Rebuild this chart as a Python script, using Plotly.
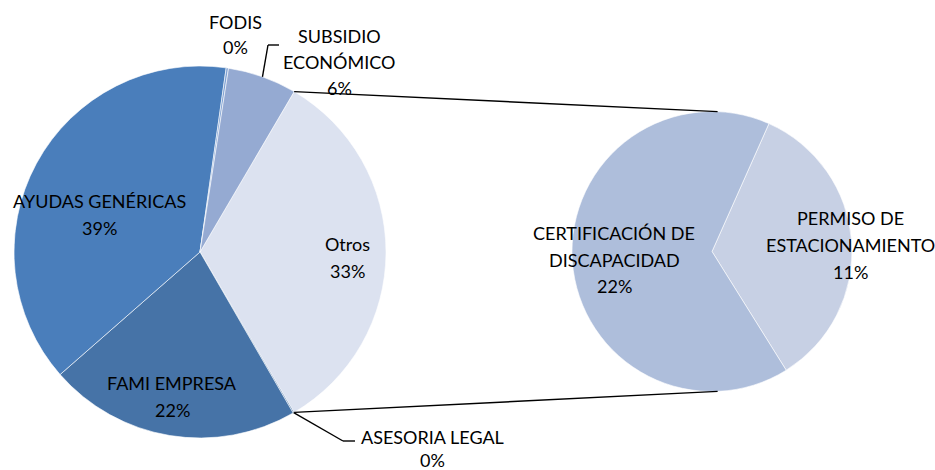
import math
import plotly.graph_objects as go

# ---- data ----
main_labels = ["Otros", "ASESORIA LEGAL", "FAMI EMPRESA", "AYUDAS GENÉRICAS", "FODIS", "SUBSIDIO ECONÓMICO"]
main_values = [33.1, 0.1, 21.9, 38.7, 0.2, 6.0]
main_colors = ["#DCE2F0", "#4672A6", "#4673A7", "#4A7EBB", "#7FA1D2", "#95AAD2"]

sec_labels = ["PERMISO DE ESTACIONAMIENTO", "CERTIFICACIÓN DE DISCAPACIDAD"]
sec_values = [11.4, 21.7]
sec_colors = ["#C7D0E4", "#AEBEDB"]

# label text lines (display)
label_lines = {
    "FODIS": ["FODIS"],
    "SUBSIDIO ECONÓMICO": ["SUBSIDIO", "ECONÓMICO"],
    "AYUDAS GENÉRICAS": ["AYUDAS GENÉRICAS"],
    "FAMI EMPRESA": ["FAMI EMPRESA"],
    "Otros": ["Otros"],
    "ASESORIA LEGAL": ["ASESORIA LEGAL"],
    "CERTIFICACIÓN DE DISCAPACIDAD": ["CERTIFICACIÓN DE", "DISCAPACIDAD"],
    "PERMISO DE ESTACIONAMIENTO": ["PERMISO DE", "ESTACIONAMIENTO"],
}

# ---- layout geometry (pixels) ----
W, H = 935, 470
MAIN_C, MAIN_R = (200, 252), 186
SEC_C, SEC_R = (712, 251.5), 140
total = sum(main_values)
otros_angle = main_values[0] / total * 360
main_rot = 90 - otros_angle / 2
sec_rot = 24

label_pos = {  # center x, first line y, line spacing
    "FODIS": (235, 22, 25),
    "SUBSIDIO ECONÓMICO": (339, 36, 26),
    "AYUDAS GENÉRICAS": (99, 201, 27),
    "FAMI EMPRESA": (172, 383, 27),
    "Otros": (347, 244, 27),
    "ASESORIA LEGAL": (432, 437, 23),
    "CERTIFICACIÓN DE DISCAPACIDAD": (614, 233, 26.5),
    "PERMISO DE ESTACIONAMIENTO": (850, 218, 27),
}

FONT = "Lato"
FS = 18


def px(x):
    return x / W


def py(y):
    return 1 - y / H


def dom(c, r):
    return dict(x=[px(c[0] - r), px(c[0] + r)], y=[py(c[1] + r), py(c[1] - r)])


fig = go.Figure()
fig.add_trace(go.Pie(
    labels=main_labels, values=main_values, sort=False, direction="clockwise",
    rotation=main_rot, textinfo="none", hoverinfo="label+percent",
    marker=dict(colors=main_colors, line=dict(color="white", width=0.6)),
    domain=dom(MAIN_C, MAIN_R), showlegend=False,
))
fig.add_trace(go.Pie(
    labels=sec_labels, values=sec_values, sort=False, direction="clockwise",
    rotation=sec_rot, textinfo="none", hoverinfo="label+percent",
    marker=dict(colors=sec_colors, line=dict(color="white", width=0.6)),
    domain=dom(SEC_C, SEC_R), showlegend=False,
))


def pt(c, r, ang):
    a = math.radians(ang)
    return c[0] + r * math.sin(a), c[1] - r * math.cos(a)


# slice mid angles
mid = {}
acc = main_rot
for lab, v in zip(main_labels, main_values):
    span = v / total * 360
    mid[lab] = acc + span / 2
    acc += span

shapes = []
# connector lines between pies
p_top = pt(MAIN_C, MAIN_R, main_rot)
p_bot = pt(MAIN_C, MAIN_R, main_rot + otros_angle)
s_top = pt(SEC_C, SEC_R, 2.3)
s_bot = pt(SEC_C, SEC_R, 177.7)
for a, b in [(p_top, s_top), (p_bot, s_bot)]:
    shapes.append(dict(type="line", xref="paper", yref="paper",
                       x0=px(a[0]), y0=py(a[1]), x1=px(b[0]), y1=py(b[1]),
                       line=dict(color="black", width=1.4)))

# leader lines for small slices
s0 = pt(MAIN_C, MAIN_R, mid["SUBSIDIO ECONÓMICO"])
sub_path = [s0, (268, 45), (279, 45)]
a0 = pt(MAIN_C, MAIN_R, mid["ASESORIA LEGAL"])
ase_path = [a0, (343, 441), (355, 441)]
for path in (sub_path, ase_path):
    for a, b in zip(path[:-1], path[1:]):
        shapes.append(dict(type="line", xref="paper", yref="paper",
                           x0=px(a[0]), y0=py(a[1]), x1=px(b[0]), y1=py(b[1]),
                           line=dict(color="black", width=1.4)))

# labels
annotations = []
pct = {lab: f"{round(v / total * 100)}%" for lab, v in zip(main_labels, main_values)}
for lab, v in zip(sec_labels, sec_values):
    pct[lab] = f"{round(v / total * 100)}%"

for lab, (cx, y0, dy) in label_pos.items():
    lines = label_lines[lab] + [pct[lab]]
    for i, t in enumerate(lines):
        annotations.append(dict(text=t, x=px(cx), y=py(y0 + i * dy), xref="paper", yref="paper",
                                xanchor="center", yanchor="middle", showarrow=False,
                                font=dict(family=FONT, size=FS, color="black")))

fig.update_layout(
    width=W, height=H, margin=dict(l=0, r=0, t=0, b=0),
    paper_bgcolor="white", plot_bgcolor="white",
    shapes=shapes, annotations=annotations,
)

fig.write_html("out.html", config={"displayModeBar": False},
               post_script="document.body.style.margin='0';document.body.style.overflow='hidden';")
